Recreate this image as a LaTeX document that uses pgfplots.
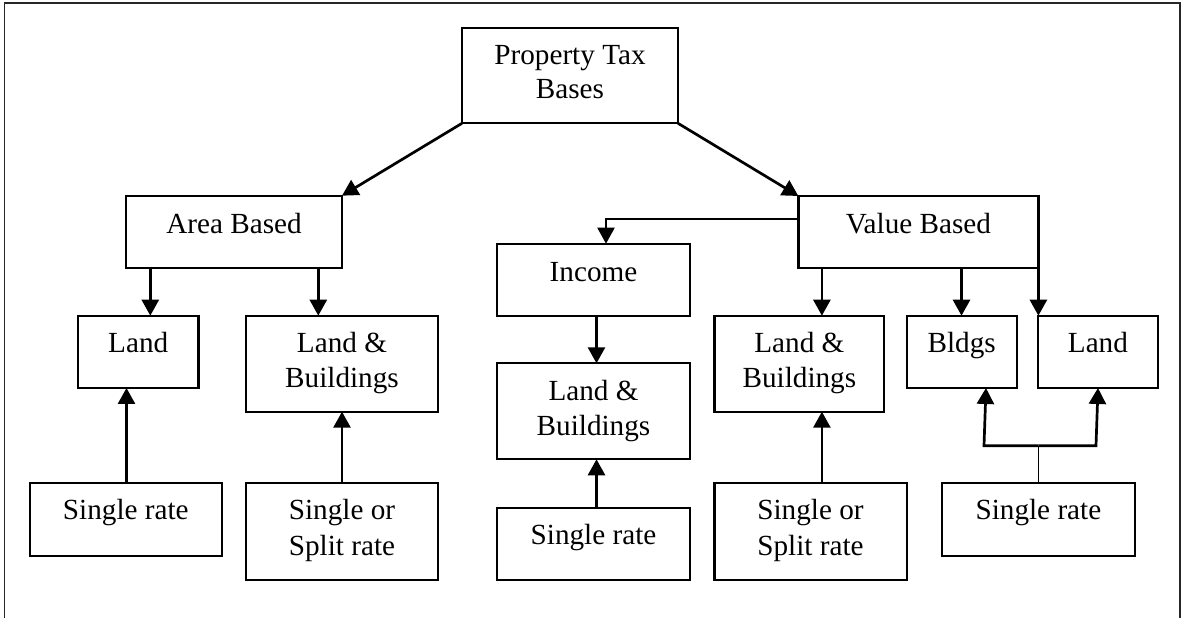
\documentclass[border=0pt]{standalone}
\usepackage{fontspec}
\setmainfont{Liberation Serif}
\usepackage{pgfplots}
\pgfplotsset{compat=1.18}
\usetikzlibrary{arrows.meta}
\begin{document}
\begin{tikzpicture}[
  bx/.style={line width=1.1pt, black, line join=miter},
  arr/.style={line width=1.35pt, black, -{Triangle[width=8.5pt,length=8pt]}},
  tx/.style={anchor=base, inner sep=0pt, font=\fontsize{14.6}{17}\selectfont},
]
\begin{axis}[
  scale only axis, width=592pt, height=309pt,
  xmin=0, xmax=1184, ymin=0, ymax=618, y dir=reverse,
  hide axis, clip=false,
]
\addplot[draw=none] coordinates {(0,0) (1184,618)};
% outer frame (bottom edge lies outside the picture)
\addplot[line width=0.9pt, black!85] coordinates {(4.5,618) (4.5,3) (1180,3) (1180,618)};
% boxes
\addplot[bx] coordinates {(462,27.7) (678,27.7) (678,123.3) (462,123.3)} -- cycle;     % Property Tax Bases
\addplot[bx] coordinates {(125.7,195.7) (342,195.7) (342,267.7) (125.7,267.7)} -- cycle; % Area Based
\addplot[bx] coordinates {(798.4,196) (1038.4,196) (1038.4,267.7) (798.4,267.7)} -- cycle; % Value Based
\addplot[bx] coordinates {(497,243.7) (690,243.7) (690,315.7) (497,315.7)} -- cycle;   % Income
\addplot[bx] coordinates {(78,315.7) (198.5,315.7) (198.5,388) (78,388)} -- cycle;       % Land left
\addplot[bx] coordinates {(246,315.7) (438,315.7) (438,411.7) (246,411.7)} -- cycle;   % L&B left
\addplot[bx] coordinates {(497,363.3) (690,363.3) (690,459.3) (497,459.3)} -- cycle;   % L&B mid
\addplot[bx] coordinates {(714.4,315.7) (884.3,315.7) (884.3,411.7) (714.4,411.7)} -- cycle; % L&B right
\addplot[bx] coordinates {(906.7,315.7) (1016.7,315.7) (1016.7,388) (906.7,388)} -- cycle; % Bldgs
\addplot[bx] coordinates {(1038,315.7) (1157.7,315.7) (1157.7,388) (1038,388)} -- cycle;   % Land right
\addplot[bx] coordinates {(29.7,483.3) (222,483.3) (222,556) (29.7,556)} -- cycle;      % Single rate left
\addplot[bx] coordinates {(246,483.3) (438,483.3) (438,580) (246,580)} -- cycle;       % Single or Split left
\addplot[bx] coordinates {(497,507.7) (690,507.7) (690,580) (497,580)} -- cycle;       % Single rate mid
\addplot[bx] coordinates {(714.4,483.3) (906.7,483.3) (906.7,580) (714.4,580)} -- cycle; % Single or Split right
\addplot[bx] coordinates {(942,483.3) (1134.7,483.3) (1134.7,556) (942,556)} -- cycle;   % Single rate right
% arrows
\addplot[arr] coordinates {(462,123.3) (342,195.7)};
\addplot[arr] coordinates {(678,123.3) (798.4,196)};
\addplot[arr, line width=1.1pt] coordinates {(798.4,219.3) (606,219.3) (606,243.7)};
\addplot[arr] coordinates {(150.3,267.7) (150.3,315.7)};
\addplot[arr] coordinates {(318.3,267.7) (318.3,315.7)};
\addplot[arr] coordinates {(821.9,267.7) (821.9,315.7)};
\addplot[arr] coordinates {(961.5,267.7) (961.5,315.7)};
\addplot[arr] coordinates {(1038.4,267.7) (1038.4,315.7)};
\addplot[arr] coordinates {(596.5,315.7) (596.5,363.3)};
\addplot[arr] coordinates {(596.5,507.7) (596.5,459.3)};
\addplot[arr] coordinates {(126.5,483.3) (126.5,388)};
\addplot[arr] coordinates {(342,483.3) (342,411.7)};
\addplot[arr] coordinates {(821.9,483.3) (821.9,411.7)};
\addplot[line width=0.7pt, black] coordinates {(1038.4,483.3) (1038.4,445.7)};
\addplot[arr] coordinates {(1038.4,445.7) (984,445.7) (986,388)};
\addplot[arr] coordinates {(1038.4,445.7) (1096,445.7) (1098,388)};
% texts
\node[tx] at (axis cs:570,65) {Property Tax};
\node[tx] at (axis cs:570,99) {Bases};
\node[tx] at (axis cs:234,233.3) {Area Based};
\node[tx] at (axis cs:918.4,233.3) {Value Based};
\node[tx] at (axis cs:593.5,281.7) {Income};
\node[tx] at (axis cs:138.2,352.7) {Land};
\node[tx] at (axis cs:342,352.7) {Land \&};
\node[tx] at (axis cs:342,387.3) {Buildings};
\node[tx] at (axis cs:593.5,400.7) {Land \&};
\node[tx] at (axis cs:593.5,436) {Buildings};
\node[tx] at (axis cs:799.4,352.7) {Land \&};
\node[tx] at (axis cs:799.4,387.3) {Buildings};
\node[tx] at (axis cs:961.7,352.7) {Bldgs};
\node[tx] at (axis cs:1097.9,352.7) {Land};
\node[tx] at (axis cs:125.8,520) {Single rate};
\node[tx] at (axis cs:342,520) {Single or};
\node[tx] at (axis cs:342,555.7) {Split rate};
\node[tx] at (axis cs:593.5,545) {Single rate};
\node[tx] at (axis cs:810.5,520) {Single or};
\node[tx] at (axis cs:810.5,555.7) {Split rate};
\node[tx] at (axis cs:1038.4,520) {Single rate};
\end{axis}
\end{tikzpicture}
\end{document}
